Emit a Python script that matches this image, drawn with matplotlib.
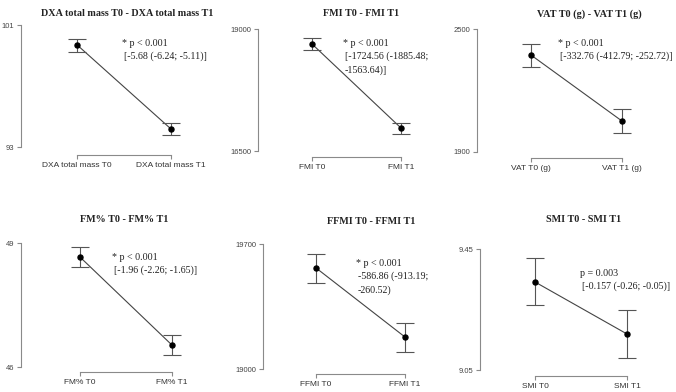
import matplotlib
matplotlib.use('Agg')
import matplotlib.pyplot as plt

# data: mean and 95% CI at T0 and T1 for each measure
titles = ['DXA total mass T0 - DXA total mass T1', 'FMI T0 - FMI T1', 'VAT T0 (g) - VAT T1 (g)',
          'FM% T0 - FM% T1', 'FFMI T0 - FFMI T1', 'SMI T0 - SMI T1']
xlabels = [('DXA total mass T0', 'DXA total mass T1'), ('FMI T0', 'FMI T1'), ('VAT T0 (g)', 'VAT T1 (g)'),
           ('FM% T0', 'FM% T1'), ('FFMI T0', 'FFMI T1'), ('SMI T0', 'SMI T1')]
means = [(99.7, 94.18), (18693, 16971), (2373, 2051), (48.66, 46.53), (19566, 19179), (9.341, 9.169)]
lows = [(99.23, 93.79), (18570, 16848), (2315, 1993), (48.42, 46.29), (19482, 19095), (9.265, 9.090)]
highs = [(100.08, 94.57), (18816, 17070), (2427, 2110), (48.90, 46.77), (19644, 19258), (9.420, 9.248)]
yticks = [(93, 101), (16500, 19000), (1900, 2500), (46, 49), (19000, 19700), (9.05, 9.45)]
ytick_labels = [('93', '101'), ('16500', '19000'), ('1900', '2500'), ('46', '49'), ('19000', '19700'), ('9.05', '9.45')]
notes = [['* p < 0.001', '[-5.68 (-6.24; -5.11)]'],
         ['* p < 0.001', '[-1724.56 (-1885.48;', '-1563.64)]'],
         ['* p < 0.001', '[-332.76 (-412.79; -252.72)]'],
         ['* p < 0.001', '[-1.96 (-2.26; -1.65)]'],
         ['* p < 0.001', '-586.86 (-913.19;', '-260.52)'],
         ['p = 0.003', '[-0.157 (-0.26; -0.05)]']]

# layout in pixels: axis x, T0 x, T1 x, top tick y, bottom tick y, bracket y
geom = [(21, 77, 171, 25, 147, 155), (258, 312, 401, 29, 151, 157), (477, 531, 622, 29, 152, 158),
        (21, 80, 172, 243, 367, 372), (263, 316, 405, 244, 369, 374), (480, 535, 627, 249, 370, 376)]
title_pos = [(127, 13), (361, 14), (589, 14), (124, 220), (371, 221), (584, 220)]
note_pos = [(122, 43), (343, 43), (558, 43), (112, 257), (356, 263), (580, 273)]

W, H = 676, 392
serif = ['Liberation Serif', 'DejaVu Serif']
sans = ['Liberation Sans', 'DejaVu Sans']
axis_col = '#8a8a8a'

fig = plt.figure(figsize=(W / 100, H / 100), dpi=100)

for i in range(6):
	axx, x0, x1, yt, yb, br = geom[i]
	right = x1 + 50
	top = yt - 6
	bot = br + 4
	ax = fig.add_axes([axx / W, 1 - bot / H, (right - axx) / W, (bot - top) / H])
	ax.patch.set_alpha(0)
	sx = x1 - x0
	ax.set_xlim(1 - (x0 - axx) / sx, 2 + (right - x1) / sx)
	vmin, vmax = yticks[i]
	s = (yb - yt) / (vmax - vmin)
	ax.set_ylim(vmin - (bot - yb) / s, vmax + (yt - top) / s)

	ax.errorbar([1, 2], means[i],
	            yerr=[[means[i][0] - lows[i][0], means[i][1] - lows[i][1]],
	                  [highs[i][0] - means[i][0], highs[i][1] - means[i][1]]],
	            fmt='o', color='black', ms=3.6, ecolor='#555555', elinewidth=0.8,
	            capsize=6.5, capthick=0.8, zorder=3)
	ax.plot([1, 2], means[i], color='#444444', lw=0.8, zorder=2)

	for sp in ['top', 'right']:
		ax.spines[sp].set_visible(False)
	ax.spines['left'].set_bounds(vmin, vmax)
	ax.spines['left'].set_color(axis_col)
	ax.spines['left'].set_linewidth(0.8)
	ax.spines['bottom'].set_position(('data', vmin - (br - yb) / s))
	ax.spines['bottom'].set_bounds(1, 2)
	ax.spines['bottom'].set_color(axis_col)
	ax.spines['bottom'].set_linewidth(0.8)

	ax.set_yticks(yticks[i])
	ax.set_yticklabels(ytick_labels[i], fontfamily=sans, fontsize=5.5, color='#444444')
	ax.set_xticks([1, 2])
	ax.set_xticklabels(xlabels[i], fontfamily=sans, fontsize=6, color='#333333')
	ax.tick_params(axis='both', length=3, width=0.8, color=axis_col, pad=2)

	tx, ty = title_pos[i]
	fig.text(tx / W, 1 - ty / H, titles[i], ha='center', va='center',
	         fontfamily=serif, fontweight='bold', fontsize=7.3, color='#222222')
	nx, ny = note_pos[i]
	for j, line in enumerate(notes[i]):
		off = 0 if j == 0 else 2
		fig.text((nx + off) / W, 1 - (ny + j * 13.5) / H, line, ha='left', va='center',
		         fontfamily=serif, fontsize=7.2, color='#222222')

fig.savefig('out.png', dpi=100)
